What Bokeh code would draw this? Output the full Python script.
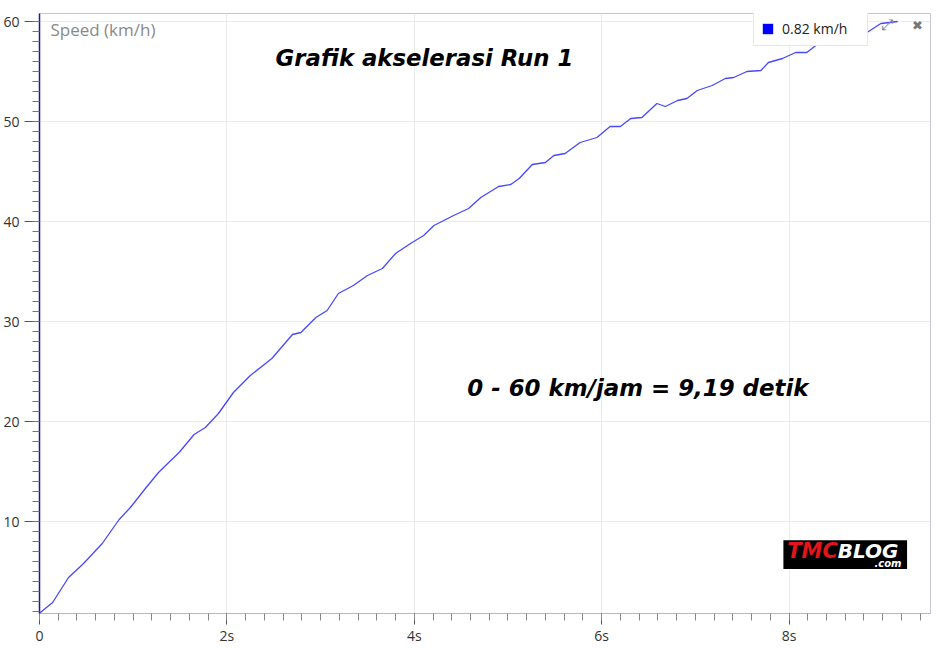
from bokeh.plotting import figure
from bokeh.models import (Range1d, SingleIntervalTicker, Label, Legend, LegendItem,
                          BoxAnnotation)
from bokeh.embed import file_html
from bokeh.resources import INLINE

# data: time (s) and speed (km/h)
time_s = [0.00, 0.14, 0.31, 0.47, 0.67, 0.85, 0.97, 1.13, 1.27, 1.49, 1.65, 1.77,
          1.91, 2.07, 2.25, 2.48, 2.70, 2.79, 2.95, 3.07, 3.19, 3.35, 3.50, 3.66,
          3.80, 3.96, 4.10, 4.21, 4.42, 4.58, 4.71, 4.90, 5.03, 5.12, 5.26, 5.40,
          5.49, 5.61, 5.77, 5.95, 6.09, 6.20, 6.31, 6.43, 6.59, 6.68, 6.81, 6.91,
          7.02, 7.18, 7.32, 7.41, 7.55, 7.70, 7.78, 7.93, 8.07, 8.19, 8.30, 8.44,
          8.53, 8.66, 8.80, 8.98, 9.08, 9.16]
speed_kmh = [0.82, 1.9, 4.4, 5.8, 7.8, 10.2, 11.4, 13.3, 14.9, 16.9, 18.7, 19.4,
             20.8, 22.9, 24.6, 26.3, 28.7, 28.9, 30.4, 31.1, 32.8, 33.6, 34.6, 35.3,
             36.8, 37.8, 38.6, 39.6, 40.6, 41.3, 42.4, 43.5, 43.7, 44.3, 45.7, 45.9,
             46.6, 46.8, 47.9, 48.4, 49.5, 49.5, 50.3, 50.4, 51.8, 51.5, 52.1, 52.3,
             53.1, 53.6, 54.3, 54.4, 55.0, 55.1, 55.9, 56.3, 56.9, 56.9, 57.7, 57.8,
             57.7, 58.2, 58.7, 59.8, 59.9, 60.0]

x_ticks = [0, 2, 4, 6, 8]
x_tick_labels = ["0", "2s", "4s", "6s", "8s"]

title_text = "Grafik akselerasi Run 1"
note_text = "0 - 60 km/jam = 9,19 detik"
y_title = "Speed (km/h)"

p = figure(width=936, height=648, output_backend="svg", toolbar_location=None,
           x_range=Range1d(0, 9.51), y_range=Range1d(0.8, 60.8),
           min_border_left=39, min_border_right=6, min_border_top=13,
           min_border_bottom=35)
p.background_fill_color = "white"
p.border_fill_color = "white"
p.outline_line_color = "#c4c4d4"

# axes
p.yaxis.ticker = SingleIntervalTicker(interval=10, num_minor_ticks=10)
p.xaxis.ticker = SingleIntervalTicker(interval=2, num_minor_ticks=10)
p.xaxis.major_label_overrides = dict(zip(x_ticks, x_tick_labels))

p.yaxis.axis_line_color = "#1c1c8c"
p.yaxis.axis_line_width = 1.5
p.yaxis.major_tick_out = 15
p.yaxis.major_tick_in = 0
p.yaxis.minor_tick_out = 7
p.yaxis.minor_tick_in = 0
p.yaxis.major_tick_line_color = "#555555"
p.yaxis.minor_tick_line_color = "#777777"
p.yaxis.major_label_standoff = 5

p.xaxis.axis_line_color = "#b8b8b8"
p.xaxis.major_tick_out = 11
p.xaxis.major_tick_in = 0
p.xaxis.minor_tick_out = 7
p.xaxis.minor_tick_in = 0
p.xaxis.major_tick_line_color = "#555555"
p.xaxis.minor_tick_line_color = "#888888"
p.xaxis.major_label_standoff = 1

for ax in (p.xaxis, p.yaxis):
    ax.major_label_text_font = "Open Sans"
    ax.major_label_text_font_size = "14px"
    ax.major_label_text_color = "#333333"

p.xgrid.grid_line_color = "#ebebeb"
p.ygrid.grid_line_color = "#ebebeb"

# the speed trace
p.line(time_s, speed_kmh, line_color="#4848ff", line_width=1.3)

# legend box with blue square (zero-size quad at the first sample)
swatch = p.quad(left=time_s[:1], right=time_s[:1], top=speed_kmh[:1],
                bottom=speed_kmh[:1], fill_color="#0000ff", line_color=None)
legend = Legend(items=[LegendItem(label=f"{speed_kmh[0]:.2f} km/h",
                                  renderers=[swatch], index=0)],
                location=(714, 567), orientation="horizontal",
                glyph_width=13, glyph_height=13, label_standoff=8, label_width=78,
                padding=7, margin=0, spacing=0,
                label_text_font="Open Sans", label_text_font_size="14px",
                label_text_color="#222222",
                border_line_color="#d0d0d0", background_fill_color="white",
                background_fill_alpha=1.0)
p.add_layout(legend)

# texts inside the chart
p.add_layout(Label(x=0.117, y=59.23, text=y_title, text_align="left",
                   text_baseline="middle", text_font="Open Sans",
                   text_font_size="17px", text_color="#8a8a8a"))
p.add_layout(Label(x=4.109, y=56.4, text=title_text, text_align="center",
                   text_baseline="middle", text_font="DejaVu Sans",
                   text_font_style="bold italic", text_font_size="22.8px",
                   text_color="black"))
p.add_layout(Label(x=6.387, y=23.33, text=note_text, text_align="center",
                   text_baseline="middle", text_font="DejaVu Sans",
                   text_font_style="bold italic", text_font_size="22.9px",
                   text_color="black"))

# window icons top right
p.add_layout(Label(x=9.05, y=59.7, text="\u2922", text_align="center",
                   text_baseline="middle", text_font="DejaVu Sans",
                   text_font_size="15px", text_color="#888888"))
p.add_layout(Label(x=9.37, y=59.6, text="\u2716", text_align="center",
                   text_baseline="middle", text_font="DejaVu Sans",
                   text_font_size="13px", text_color="#777777"))

# TMCBLOG logo
p.add_layout(BoxAnnotation(left=7.94, right=9.26, bottom=5.25, top=8.12,
                           fill_color="black", fill_alpha=1.0, line_color=None))
p.add_layout(Label(x=7.98, y=7.05, text="TMC", text_align="left",
                   text_baseline="middle", text_font="DejaVu Sans",
                   text_font_style="bold italic", text_font_size="21px",
                   text_color="#e3141c"))
p.add_layout(Label(x=8.52, y=7.05, text="BLOG", text_align="left",
                   text_baseline="middle", text_font="DejaVu Sans",
                   text_font_style="bold italic", text_font_size="20px",
                   text_color="white"))
p.add_layout(Label(x=9.2, y=5.8, text=".com", text_align="right",
                   text_baseline="middle", text_font="DejaVu Sans",
                   text_font_style="bold italic", text_font_size="10px",
                   text_color="white"))

open("out.html", "w").write(file_html(p, INLINE))
